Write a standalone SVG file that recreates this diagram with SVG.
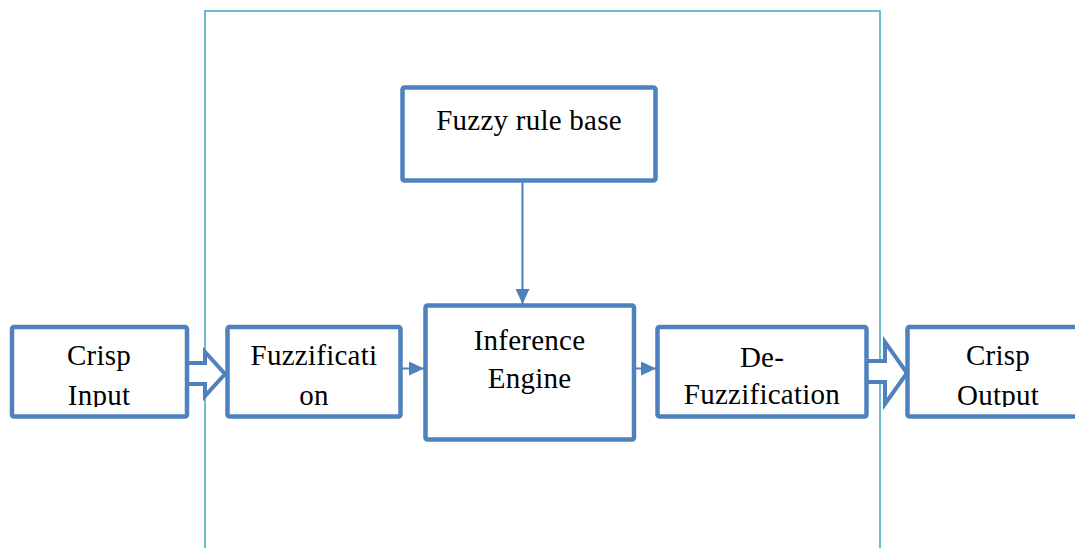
<svg xmlns="http://www.w3.org/2000/svg" width="1075" height="548" viewBox="0 0 1075 548">
  <style>
    .box { fill: #ffffff; stroke: #4f81bd; stroke-width: 4.5; }
    .blk { fill: #ffffff; stroke: #4f81bd; stroke-width: 4; stroke-linejoin: miter; }
    .ln { stroke: #4f81bd; stroke-width: 2; fill: none; }
    .frame { fill: none; stroke: #4bacc6; stroke-width: 1.6; }
    .t { font-family: "Liberation Serif", "Times New Roman", serif; font-size: 29px; letter-spacing: 0.25px; fill: #000000; text-anchor: middle; }
  </style>
  <defs>
    <marker id="ah" markerUnits="userSpaceOnUse" markerWidth="16" markerHeight="14" refX="15" refY="7" orient="auto">
      <path d="M0,0 L15,7 L0,14 Z" fill="#4f81bd"/>
    </marker>
    <clipPath id="clipIn"><rect x="14" y="329" width="171" height="78"/></clipPath>
    <clipPath id="clipFz"><rect x="230" y="329" width="168" height="78"/></clipPath>
    <clipPath id="clipOut"><rect x="910" y="329" width="170" height="78"/></clipPath>
  </defs>

  <rect class="frame" x="205" y="11" width="675" height="560"/>

  <g id="connectors">
    <polygon class="blk" points="187,363 205,363 205,352 225,374 205,396 205,384 187,384"/>
    <polygon class="blk" points="866,361 885,361 885,342 907,373 885,404 885,382 866,382"/>
    <line class="ln" x1="522.5" y1="181" x2="522.5" y2="304" marker-end="url(#ah)"/>
    <line class="ln" x1="401" y1="368.5" x2="424" y2="368.5" marker-end="url(#ah)"/>
    <line class="ln" x1="634" y1="368.5" x2="656" y2="368.5" marker-end="url(#ah)"/>
  </g>

  <g id="crisp-input">
    <rect class="box" x="12" y="327" width="175" height="89.5" rx="2"/>
    <g clip-path="url(#clipIn)">
      <text class="t" x="99" y="365">Crisp</text>
      <text class="t" x="99" y="405">Input</text>
    </g>
  </g>

  <g id="fuzzification">
    <rect class="box" x="227.5" y="327" width="173" height="89.5" rx="2"/>
    <g clip-path="url(#clipFz)">
      <text class="t" x="314" y="365">Fuzzificati</text>
      <text class="t" x="314" y="405">on</text>
    </g>
  </g>

  <g id="fuzzy-rule-base">
    <rect class="box" x="402.5" y="87.5" width="253" height="93" rx="2"/>
    <text class="t" x="529" y="130">Fuzzy rule base</text>
  </g>

  <g id="inference-engine">
    <rect class="box" x="425.5" y="305.5" width="208.5" height="134" rx="2"/>
    <text class="t" x="529.5" y="350">Inference</text>
    <text class="t" x="529.5" y="388">Engine</text>
  </g>

  <g id="de-fuzzification">
    <rect class="box" x="657.5" y="327" width="209" height="89.5" rx="2"/>
    <text class="t" x="762" y="367">De-</text>
    <text class="t" x="762" y="404">Fuzzification</text>
  </g>

  <g id="crisp-output">
    <rect class="box" x="907.5" y="327" width="175" height="89.5" rx="2"/>
    <g clip-path="url(#clipOut)">
      <text class="t" x="998" y="365">Crisp</text>
      <text class="t" x="998" y="405">Output</text>
    </g>
  </g>
</svg>
